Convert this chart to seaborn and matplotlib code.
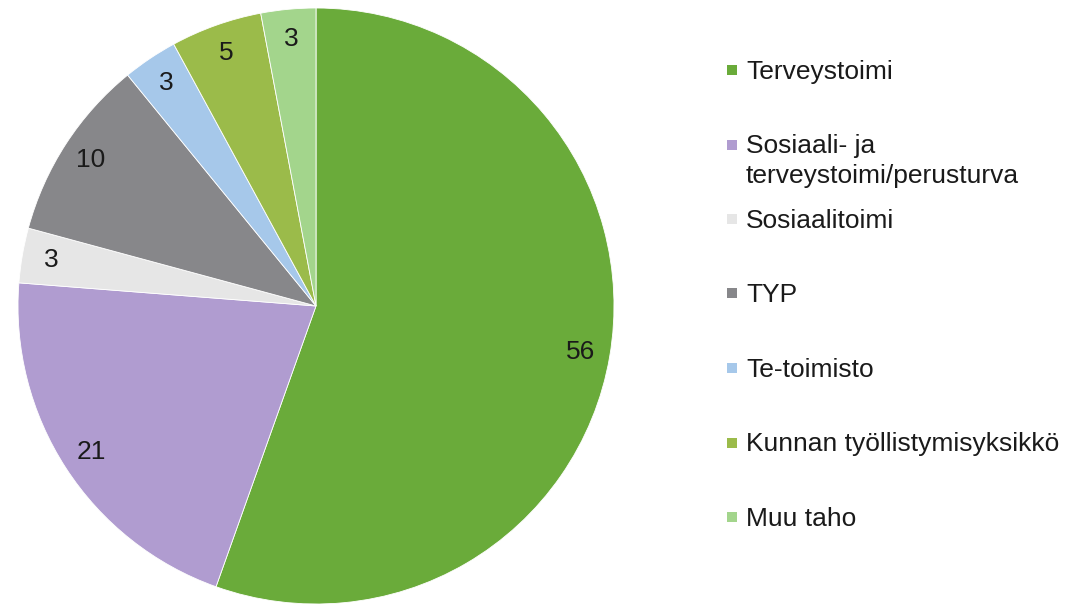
import matplotlib
matplotlib.use("Agg")
import matplotlib.pyplot as plt
import matplotlib.patches as mpatches
import seaborn as sns

categories = [
    "Terveystoimi",
    "Sosiaali- ja\nterveystoimi/perusturva",
    "Sosiaalitoimi",
    "TYP",
    "Te-toimisto",
    "Kunnan työllistymisyksikkö",
    "Muu taho",
]
values = [56, 21, 3, 10, 3, 5, 3]
colors = ["#6aab3a", "#b09cd0", "#e6e6e6", "#87878a", "#a6c8ea", "#9bbb4a", "#a3d58c"]

sns.set_theme(style="white")
plt.rcParams["font.family"] = ["Liberation Sans", "DejaVu Sans"]

fig = plt.figure(figsize=(10.74, 6.04), dpi=100)
ax = fig.add_axes([18 / 1074, 0 / 604, 596 / 1074, 596 / 604])

pal = sns.color_palette(colors)
wedges, texts, autotexts = ax.pie(
    values,
    colors=pal,
    startangle=90,
    counterclock=False,
    autopct=lambda p: f"{p * sum(values) / 100:.0f}",
    pctdistance=0.9,
    wedgeprops=dict(edgecolor="white", linewidth=0.6),
    textprops=dict(fontsize=19, color="#1a1a1a"),
)
ax.set_xlim(-1, 1)
ax.set_ylim(-1, 1)
ax.set_aspect("equal")

# legend drawn by hand to get Excel-like equal slots
slot_top = 70
slot_step = 74.5
line_gap = 30
for i, (lab, col) in enumerate(zip(categories, colors)):
    y = slot_top + i * slot_step
    fig.patches.append(mpatches.Rectangle(
        (727 / 1074, 1 - (y + 5) / 604), 10 / 1074, 10 / 604,
        transform=fig.transFigure, facecolor=col, edgecolor="none"))
    for j, line in enumerate(lab.split("\n")):
        fig.text(746 / 1074, 1 - (y + 9 + j * line_gap) / 604, line,
                 fontsize=19, color="#1a1a1a", va="baseline", ha="left")

fig.savefig("out.png", dpi=100)
